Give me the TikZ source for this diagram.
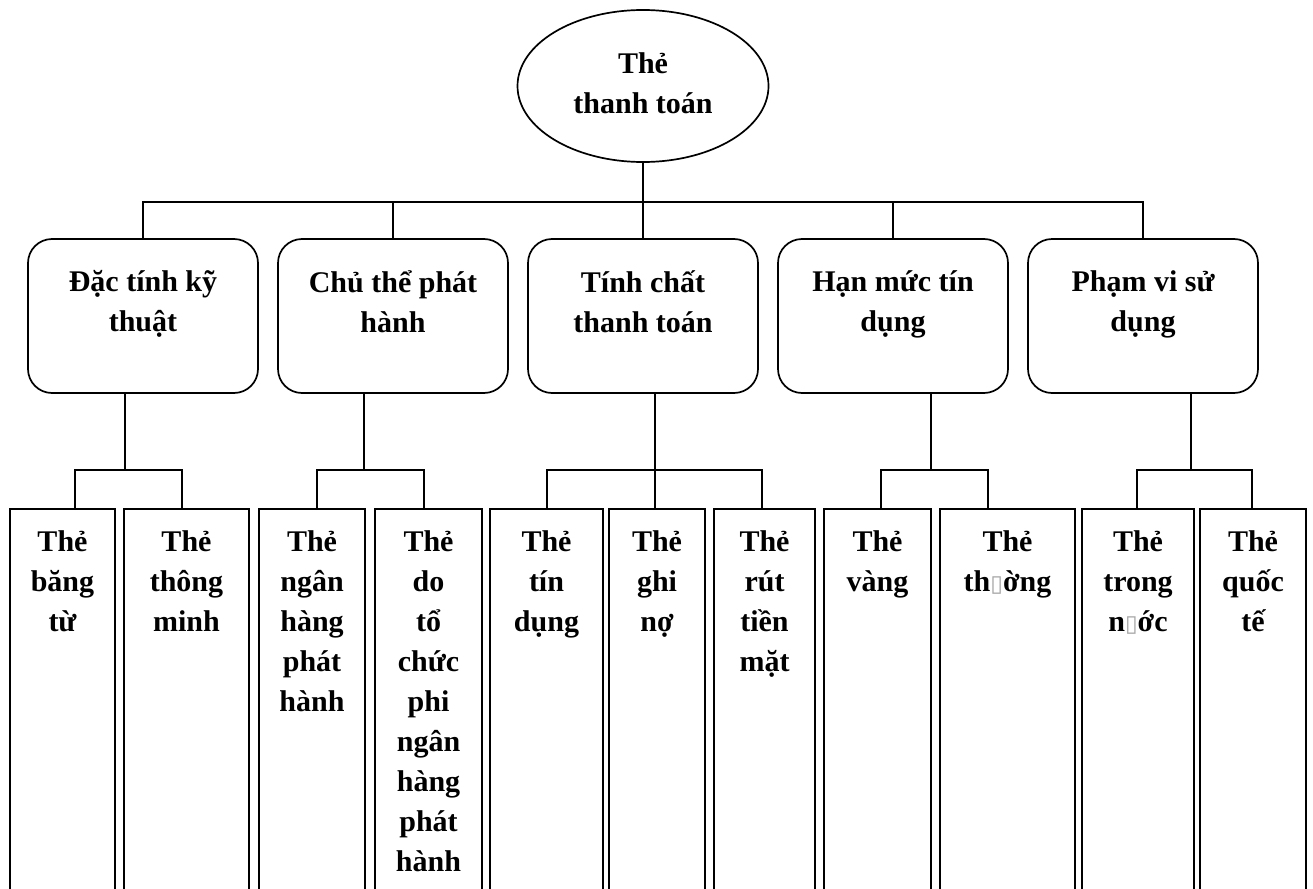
\documentclass[tikz,border=0pt]{standalone}
\usepackage{fontspec}
\setmainfont{Liberation Serif}
\newfontfamily\glyphfont{DejaVu Sans}
\usetikzlibrary{shapes.geometric}
% grey placeholder box standing for a glyph the source font could not show
\newcommand\nogl{{\color{black!35}\glyphfont\fontsize{23}{23}\selectfont ▯}}
\begin{document}
\begin{tikzpicture}[x=1pt,y=-1pt,line width=1.7pt,
  lbl/.style={font=\bfseries\fontsize{30}{40}\selectfont,align=center,anchor=north,
    inner sep=0pt,execute at begin node={\rule{0pt}{30pt}}},
  rootshape/.style={draw,ellipse,minimum width=251pt,minimum height=152pt,inner sep=0pt},
  headbox/.style={draw,rounded corners=24pt,minimum width=230pt,minimum height=154pt,inner sep=0pt},
  leaf/.style={draw,minimum height=440pt,inner sep=0pt,anchor=north}]
\useasboundingbox (0,0) rectangle (1313,888);

% root
\node[rootshape] (root) at (643,86) {};
\node[lbl] (troot) at (643,52) {Thẻ\\thanh toán};

% first level
\node[headbox] (ha) at (143,316) {};
\node[headbox] (hb) at (393,316) {};
\node[headbox] (hc) at (643,316) {};
\node[headbox] (hd) at (893,316) {};
\node[headbox] (he) at (1143,316) {};
\node[lbl] (tha) at (143,270) {Đặc tính kỹ\\thuật};
\node[lbl] (thb) at (393,270) {Chủ thể phát\\hành};
\node[lbl] (thc) at (643,270) {Tính chất\\thanh toán};
\node[lbl] (thd) at (893,270) {Hạn mức tín\\dụng};
\node[lbl] (the) at (1143,270) {Phạm vi sử\\dụng};

% leaves (open at the foot of the page)
\node[leaf,minimum width=105pt] (ba) at (62.5,508) {};
\node[leaf,minimum width=125pt] (bb) at (186.5,508) {};
\node[leaf,minimum width=106pt] (bc) at (312,508) {};
\node[leaf,minimum width=107pt] (bd) at (428.5,508) {};
\node[leaf,minimum width=113pt] (be) at (546.5,508) {};
\node[leaf,minimum width=96pt] (bf) at (657,508) {};
\node[leaf,minimum width=101pt] (bg) at (764.5,508) {};
\node[leaf,minimum width=107pt] (bh) at (877.5,508) {};
\node[leaf,minimum width=135pt] (bi) at (1007.5,508) {};
\node[leaf,minimum width=112pt] (bj) at (1138,508) {};
\node[leaf,minimum width=106pt] (bk) at (1253,508) {};

\node[lbl] (tba) at (62.5,530) {Thẻ\\băng\\từ};
\node[lbl] (tbb) at (186.5,530) {Thẻ\\thông\\minh};
\node[lbl] (tbc) at (312,530) {Thẻ\\ngân\\hàng\\phát\\hành};
\node[lbl] (tbd) at (428.5,530) {Thẻ\\do\\tổ\\chức\\phi\\ngân\\hàng\\phát\\hành};
\node[lbl] (tbe) at (546.5,530) {Thẻ\\tín\\dụng};
\node[lbl] (tbf) at (657,530) {Thẻ\\ghi\\nợ};
\node[lbl] (tbg) at (764.5,530) {Thẻ\\rút\\tiền\\mặt};
\node[lbl] (tbh) at (877.5,530) {Thẻ\\vàng};
\node[lbl] (tbi) at (1007.5,530) {Thẻ\\th\nogl ờng};
\node[lbl] (tbj) at (1138,530) {Thẻ\\trong\\n\nogl ớc};
\node[lbl] (tbk) at (1253,530) {Thẻ\\quốc\\tế};

% root to first level
\coordinate (bus) at (643,202);
\draw (root.south) -- (bus);
\foreach \h in {ha,hb,hc,hd,he} \draw (\h.north) |- (bus);

% first level to leaves
\coordinate (ja) at (125,470);
\coordinate (jb) at (364,470);
\coordinate (jc) at (655,470);
\coordinate (jd) at (931,470);
\coordinate (je) at (1191,470);
\coordinate (da1) at (75,508);   \coordinate (da2) at (182,508);
\coordinate (db1) at (317,508);  \coordinate (db2) at (424,508);
\coordinate (dc1) at (547,508);  \coordinate (dc2) at (655,508);  \coordinate (dc3) at (762,508);
\coordinate (dd1) at (881,508);  \coordinate (dd2) at (988,508);
\coordinate (de1) at (1137,508); \coordinate (de2) at (1252,508);

\draw (ha.south -| ja) -- (ja);
\draw (da1) |- (ja) -| (da2);
\draw (hb.south -| jb) -- (jb);
\draw (db1) |- (jb) -| (db2);
\draw (hc.south -| jc) -- (jc);
\draw (dc1) |- (jc) -| (dc3);
\draw (jc) -- (dc2);
\draw (hd.south -| jd) -- (jd);
\draw (dd1) |- (jd) -| (dd2);
\draw (he.south -| je) -- (je);
\draw (de1) |- (je) -| (de2);
\end{tikzpicture}
\end{document}
